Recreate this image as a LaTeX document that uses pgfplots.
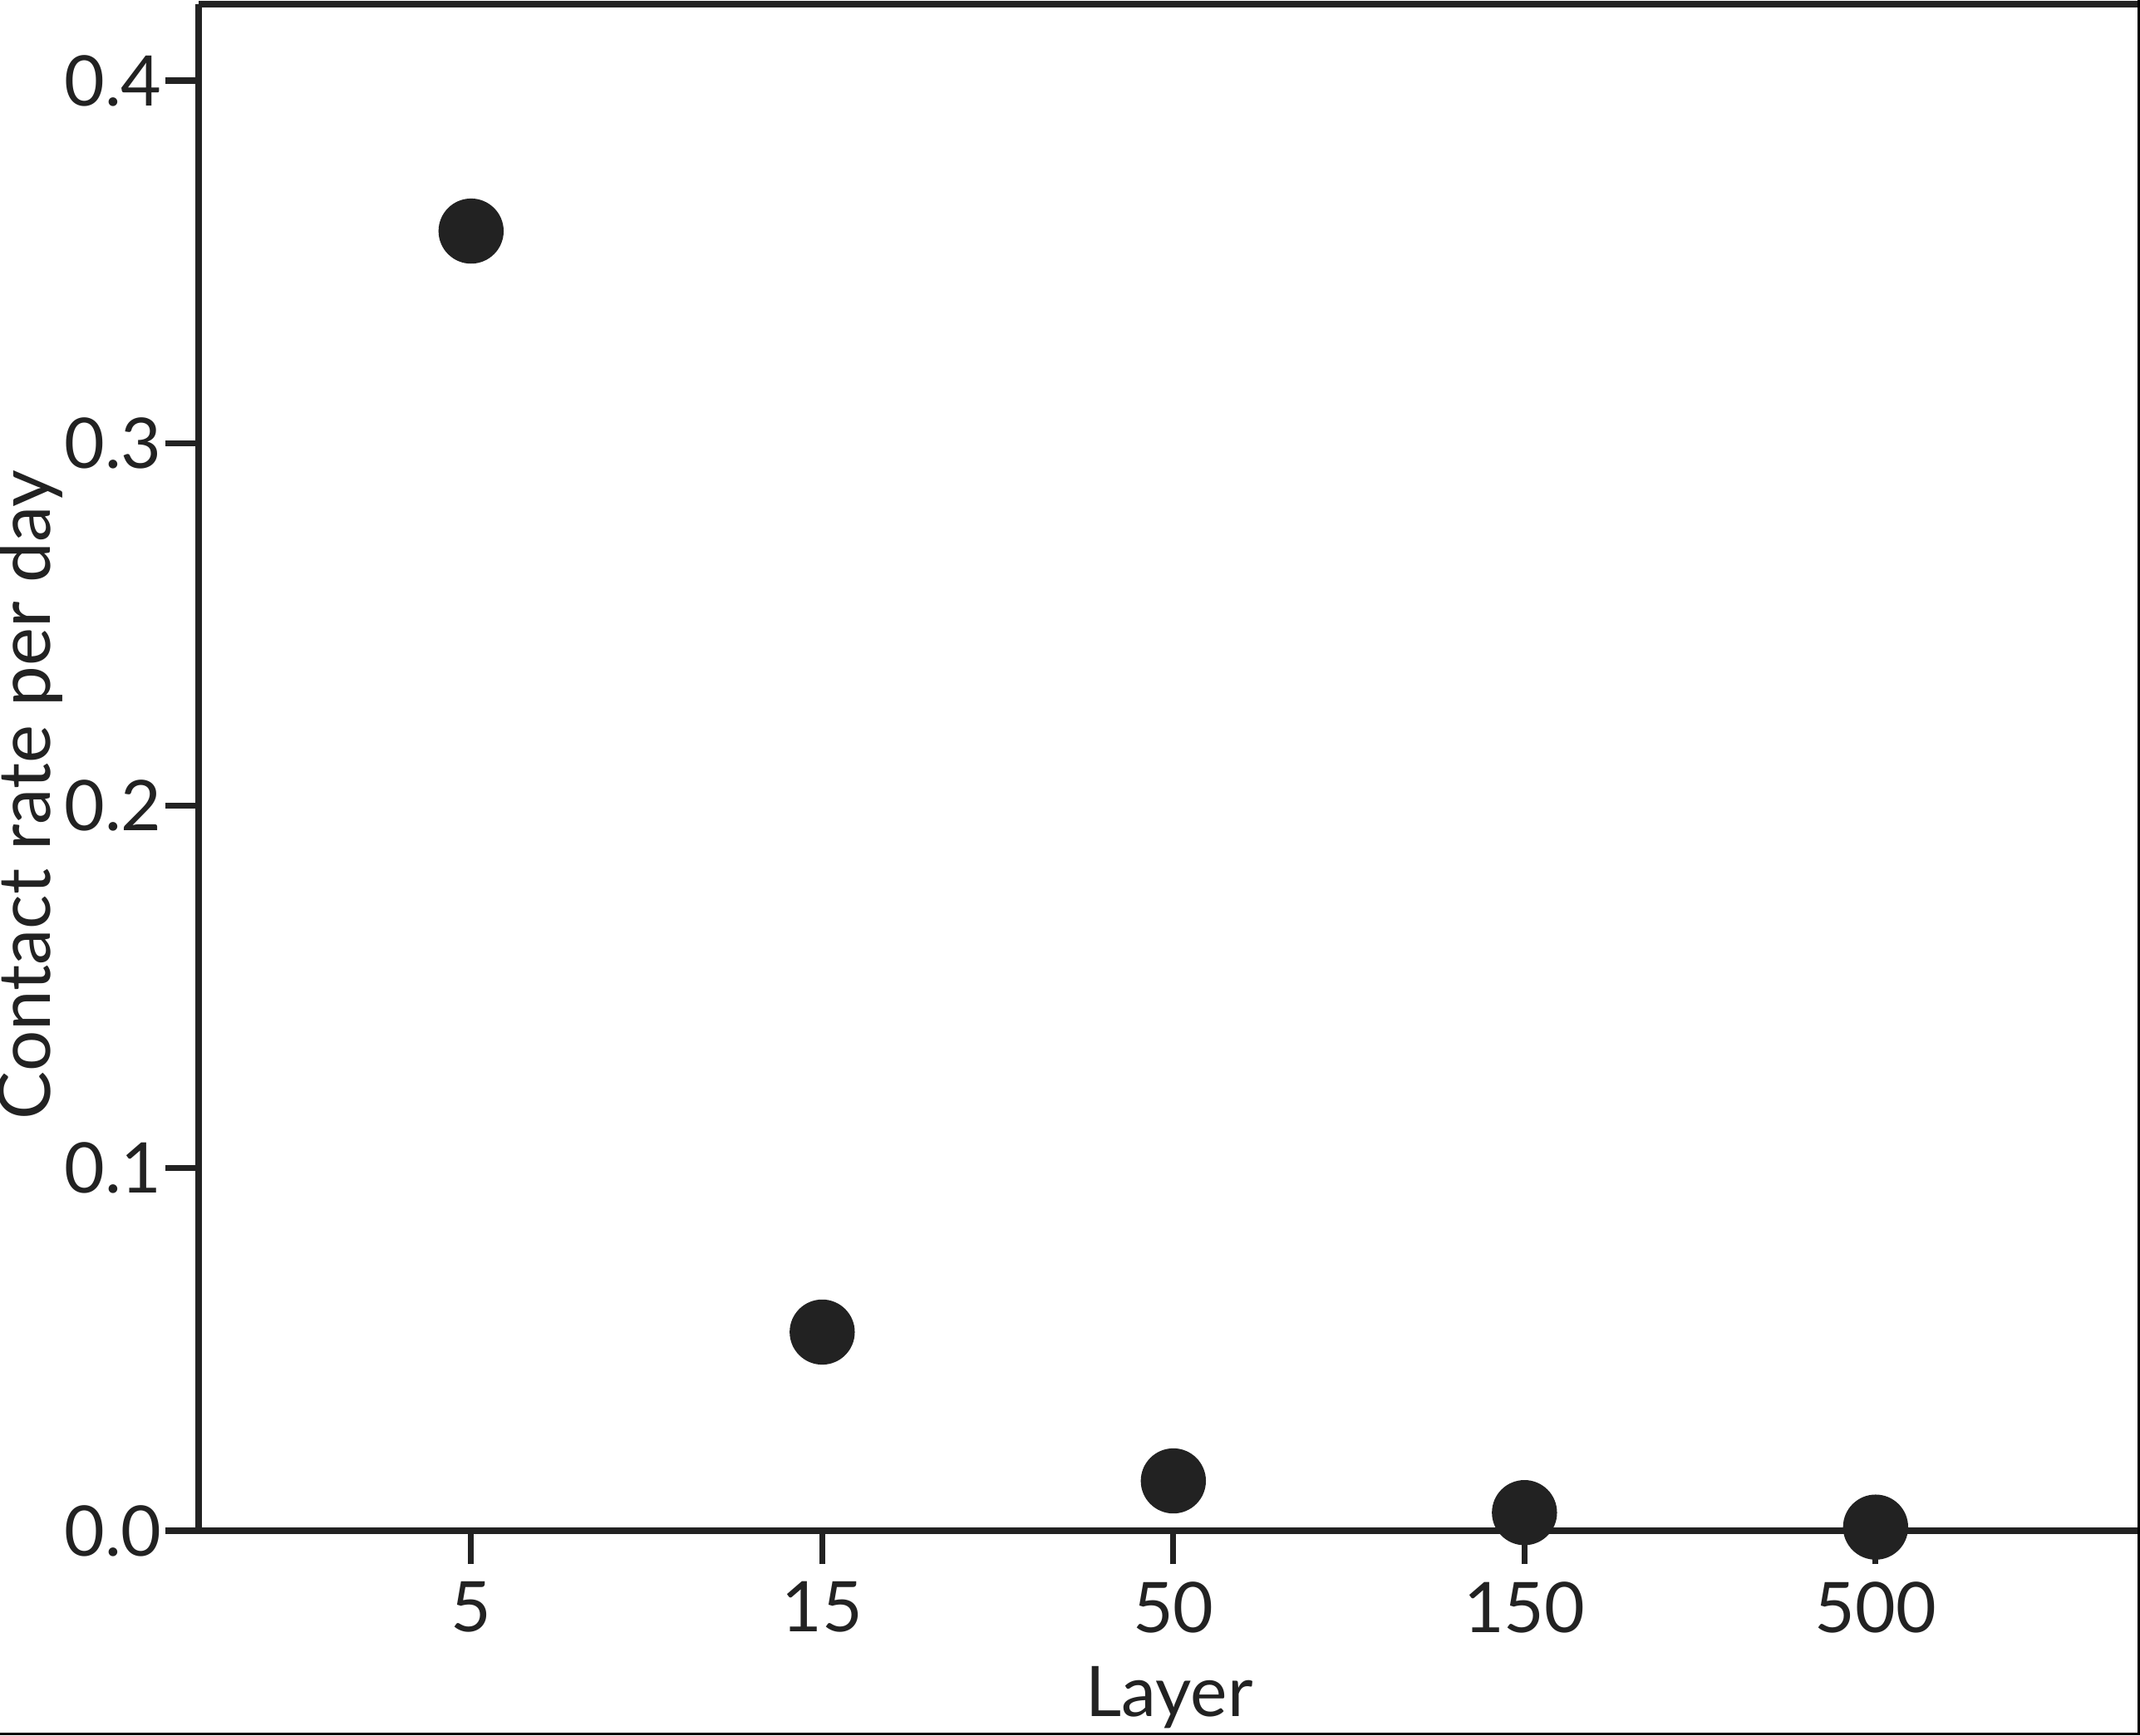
\documentclass[border=0pt]{standalone}
\usepackage{fontspec}
\setmainfont{Lato}
\usepackage{pgfplots}
\pgfplotsset{compat=1.18}
\definecolor{ink}{HTML}{222222}
\begin{document}
\fontsize{14pt}{16pt}\selectfont
\begin{tikzpicture}
\begin{axis}[
  name=ax,
  scale only axis,
  width=389.33pt, height=306.17pt,
  xmin=-0.776, xmax=4.753,
  ymin=0, ymax=0.4211,
  axis lines*=left,
  axis line style={-, line width=1.4pt, draw=ink},
  xtick={0,1,2,3,4},
  xticklabels={5,15,50,150,500},
  ytick={0,0.1,0.2,0.3,0.4},
  tick align=outside,
  major tick length=6.7pt,
  tick style={line width=1.2pt, draw=ink},
  /pgf/number format/assume math mode=true,
  yticklabel style={/pgf/number format/fixed, /pgf/number format/fixed zerofill, /pgf/number format/precision=1, inner sep=0.5pt},
  ticklabel style={font=\fontsize{14pt}{16pt}\selectfont, text=ink},
  xticklabel style={inner sep=0pt, yshift=-3.3pt},
  xlabel={Layer},
  ylabel={Contact rate per day},
  label style={font=\fontsize{14pt}{16pt}\selectfont, text=ink},
  xlabel style={at={(axis description cs:0.5,0)}, anchor=base, yshift=-37.2pt},
  ylabel style={at={(axis description cs:-0.0766,0.482)}, anchor=base, font=\fontsize{14.5pt}{16pt}\selectfont},
  clip=false,
]
\addplot[only marks, mark=*, mark size=6.33pt, color=ink, mark options={draw=none, fill=ink}]
  coordinates {(0,0.3585) (1,0.0548) (2,0.01375) (3,0.0050) (4,0.0010)};
\draw[line width=1.4pt, draw=ink] (rel axis cs:0,1) -- (rel axis cs:1,1);
\end{axis}
\pgfresetboundingbox
\path[use as bounding box] ([shift={(-39.83pt,-41pt)}]ax.south west) rectangle ([shift={(0pt,0.83pt)}]ax.north east);
\draw[line width=0.5pt, black] ([shift={(-39.83pt,-40.75pt)}]ax.south west) -- ([shift={(-0.25pt,-40.75pt)}]ax.south east) -- ([shift={(-0.25pt,0.83pt)}]ax.north east);
\end{tikzpicture}
\end{document}
